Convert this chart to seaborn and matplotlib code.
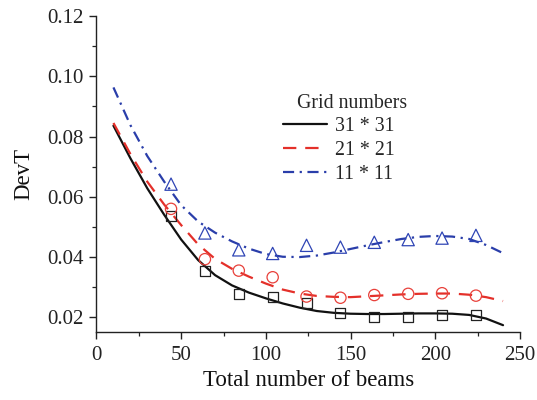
import numpy as np
import pandas as pd
import matplotlib
matplotlib.use("Agg")
import matplotlib.pyplot as plt
import matplotlib.transforms as mtransforms
import seaborn as sns

# ---- data ----
beams_pts = [44, 64, 84, 104, 124, 144, 164, 184, 204, 224]
dev_31 = [0.0535, 0.0354, 0.0277, 0.0269, 0.0247, 0.0213, 0.0202, 0.0202, 0.0209, 0.0208]
dev_21 = [0.0560, 0.0393, 0.0355, 0.0333, 0.0269, 0.0265, 0.0274, 0.0278, 0.0280, 0.0272]
dev_11 = [0.0642, 0.0480, 0.0424, 0.0412, 0.0439, 0.0433, 0.0449, 0.0458, 0.0463, 0.0472]

beams_fit = [10, 20, 30, 40, 50, 60, 70, 80, 90, 100, 110, 120,
             130, 140, 150, 160, 170, 180, 190, 200, 210, 220, 230, 240]
fit_31 = [0.0836, 0.0728, 0.0628, 0.0540, 0.0458, 0.0390, 0.0340, 0.0306, 0.0282,
          0.0263, 0.0246, 0.0232, 0.0221, 0.0215, 0.0212, 0.0211, 0.0211, 0.0212,
          0.0213, 0.0213, 0.0212, 0.0208, 0.0196, 0.0174]
fit_21 = [0.0845, 0.0742, 0.0650, 0.0574, 0.0506, 0.0442, 0.0394, 0.0361, 0.0335,
          0.0312, 0.0292, 0.0279, 0.0271, 0.0268, 0.0267, 0.0270, 0.0273, 0.0276,
          0.0278, 0.0279, 0.0279, 0.0275, 0.0267, 0.0254]
fit_11 = [0.0963, 0.0838, 0.0735, 0.0650, 0.0572, 0.0518, 0.0481, 0.0452, 0.0428,
          0.0410, 0.0401, 0.0400, 0.0405, 0.0415, 0.0427, 0.0439, 0.0450, 0.0460,
          0.0467, 0.0470, 0.0468, 0.0460, 0.0440, 0.0413]

labels = ["31 * 31", "21 * 21", "11 * 11"]
legend_title = "Grid numbers"
x_label = "Total number of beams"
y_label = "DevT"

# ---- style ----
sns.set_theme(style="ticks")
plt.rcParams['font.family'] = ['Liberation Serif', 'DejaVu Serif']
plt.rcParams['mathtext.fontset'] = 'stix'

colors = ["#111111", "#e4302a", "#2a3eaa"]
marker_colors = ["#222222", "#e8403a", "#2f45b5"]
markers = ["s", "o", "^"]
msizes = [52, 66, 78]
dashes = [None, (6, 4), (5, 2.5, 1, 2.5)]

fig = plt.figure(figsize=(5.37, 4.0), dpi=100)
ax = fig.add_axes([0.1797, 0.169, 0.7886, 0.791])

fits = [fit_31, fit_21, fit_11]
pts = [dev_31, dev_21, dev_11]

handles = []
for i in range(3):
    df_fit = pd.DataFrame({"x": beams_fit, "y": fits[i]})
    sns.lineplot(data=df_fit, x="x", y="y", ax=ax, color=colors[i], lw=1.6,
                 legend=False, zorder=2)
    ln = ax.lines[-1]
    ln.set_solid_joinstyle("round")
    ln.set_dash_joinstyle("round")
    if dashes[i] is not None:
        ln.set_dashes(dashes[i])
    handles.append(ln)
    df_pt = pd.DataFrame({"x": beams_pts, "y": pts[i]})
    sns.scatterplot(data=df_pt, x="x", y="y", ax=ax, marker=markers[i],
                    s=msizes[i], facecolors="none", edgecolor=marker_colors[i],
                    linewidth=0.9, legend=False, zorder=3)

ax.set_xlim(0, 250)
ax.set_ylim(0.015, 0.12)
ax.set_xticks([0, 50, 100, 150, 200, 250])
ax.set_xticks([25, 75, 125, 175, 225], minor=True)
ax.set_yticks([0.02, 0.04, 0.06, 0.08, 0.10, 0.12])
ax.set_yticks([0.03, 0.05, 0.07, 0.09, 0.11], minor=True)
ax.set_yticklabels(["0.02", "0.04", "0.06", "0.08", "0.10", "0.12"])

sns.despine(ax=ax)
for s in ["left", "bottom"]:
    ax.spines[s].set_linewidth(1.0)
    ax.spines[s].set_color("#222222")

ax.tick_params(axis="both", which="major", direction="out", length=5, width=1.0,
               labelsize=15, pad=4.5, colors="#222222")
ax.tick_params(axis="both", which="minor", direction="out", length=3, width=0.9,
               colors="#222222")

ax.set_xlabel(x_label, fontsize=16.5, labelpad=4, color="#111111")
ax.set_ylabel(y_label, fontsize=16.5, labelpad=9, color="#111111")

leg = ax.legend(handles=handles, labels=labels, title=legend_title,
                frameon=False, fontsize=14.3, title_fontsize=14.3,
                loc="upper left", bbox_to_anchor=(0.44, 0.755),
                handlelength=2.2, handletextpad=0.45, labelspacing=0.24,
                borderaxespad=0, borderpad=0)
for h in leg.legend_handles:
    h.set_linewidth(1.6)
# nudge the title to the right, as in the reference
title = leg.get_title()
title.set_transform(title.get_transform() +
                    mtransforms.ScaledTranslation(13 / 100, 0, fig.dpi_scale_trans))

fig.savefig("out.png", dpi=100)
